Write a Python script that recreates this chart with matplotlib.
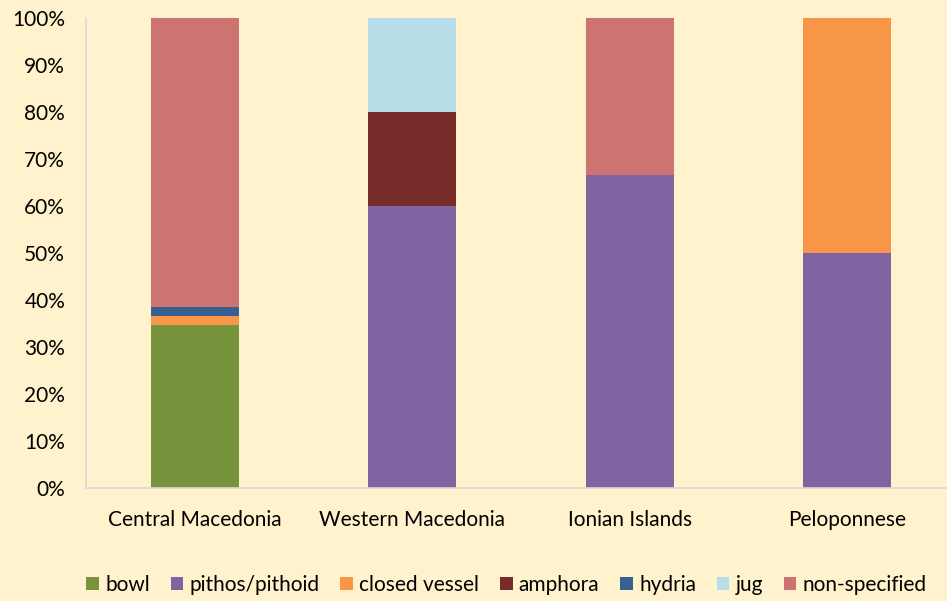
import matplotlib.pyplot as plt
import numpy as np

plt.rcParams['font.family'] = ['Lato', 'DejaVu Sans']

# data (shares, %)
regions = ['Central Macedonia', 'Western Macedonia', 'Ionian Islands', 'Peloponnese']
types = ['bowl', 'pithos/pithoid', 'closed vessel', 'amphora', 'hydria', 'jug', 'non-specified']
bowl = [34.6, 0, 0, 0]
pithos = [0, 60, 66.7, 50]
closed_vessel = [1.9, 0, 0, 50]
amphora = [0, 20, 0, 0]
hydria = [2.0, 0, 0, 0]
jug = [0, 20, 0, 0]
non_specified = [61.5, 0, 33.3, 0]
colors = ['#77933C', '#8064A2', '#F79646', '#772C2A', '#376092', '#B7DEE8', '#CD7371']

series = [bowl, pithos, closed_vessel, amphora, hydria, jug, non_specified]

bg = '#FFF2CC'
fig = plt.figure(figsize=(9.47, 6.01), dpi=100, facecolor=bg)
ax = fig.add_axes([86/947, 1-488/601, 870/947, 470/601], facecolor=bg)

x = np.arange(len(regions))
bottom = np.zeros(len(regions))
for name, vals, c in zip(types, series, colors):
    vals = np.array(vals, dtype=float)
    ax.bar(x, vals, 0.405, bottom=bottom, color=c, label=name)
    bottom += vals

ax.set_xlim(-0.5, len(regions)-0.5)
ax.set_ylim(0, 100)
ax.set_yticks(np.arange(0, 101, 10))
ax.set_yticklabels([f'{v}%' for v in range(0, 101, 10)], fontsize=15)
ax.set_xticks(x)
ax.set_xticklabels(regions, fontsize=15)
ax.tick_params(length=0)
ax.tick_params(axis='y', pad=15)
ax.tick_params(axis='x', pad=16)
for s in ['top', 'right']:
    ax.spines[s].set_visible(False)
for s in ['left', 'bottom']:
    ax.spines[s].set_color('#D9D9D9')
    ax.spines[s].set_linewidth(1.2)

fig.legend(loc='center', bbox_to_anchor=(0.535, 1-585/601), ncol=7, frameon=False,
           fontsize=15, handlelength=0.6, handleheight=0.6, handletextpad=0.3,
           columnspacing=1.0, borderaxespad=0)

fig.savefig('out.png', dpi=100, facecolor=bg)
